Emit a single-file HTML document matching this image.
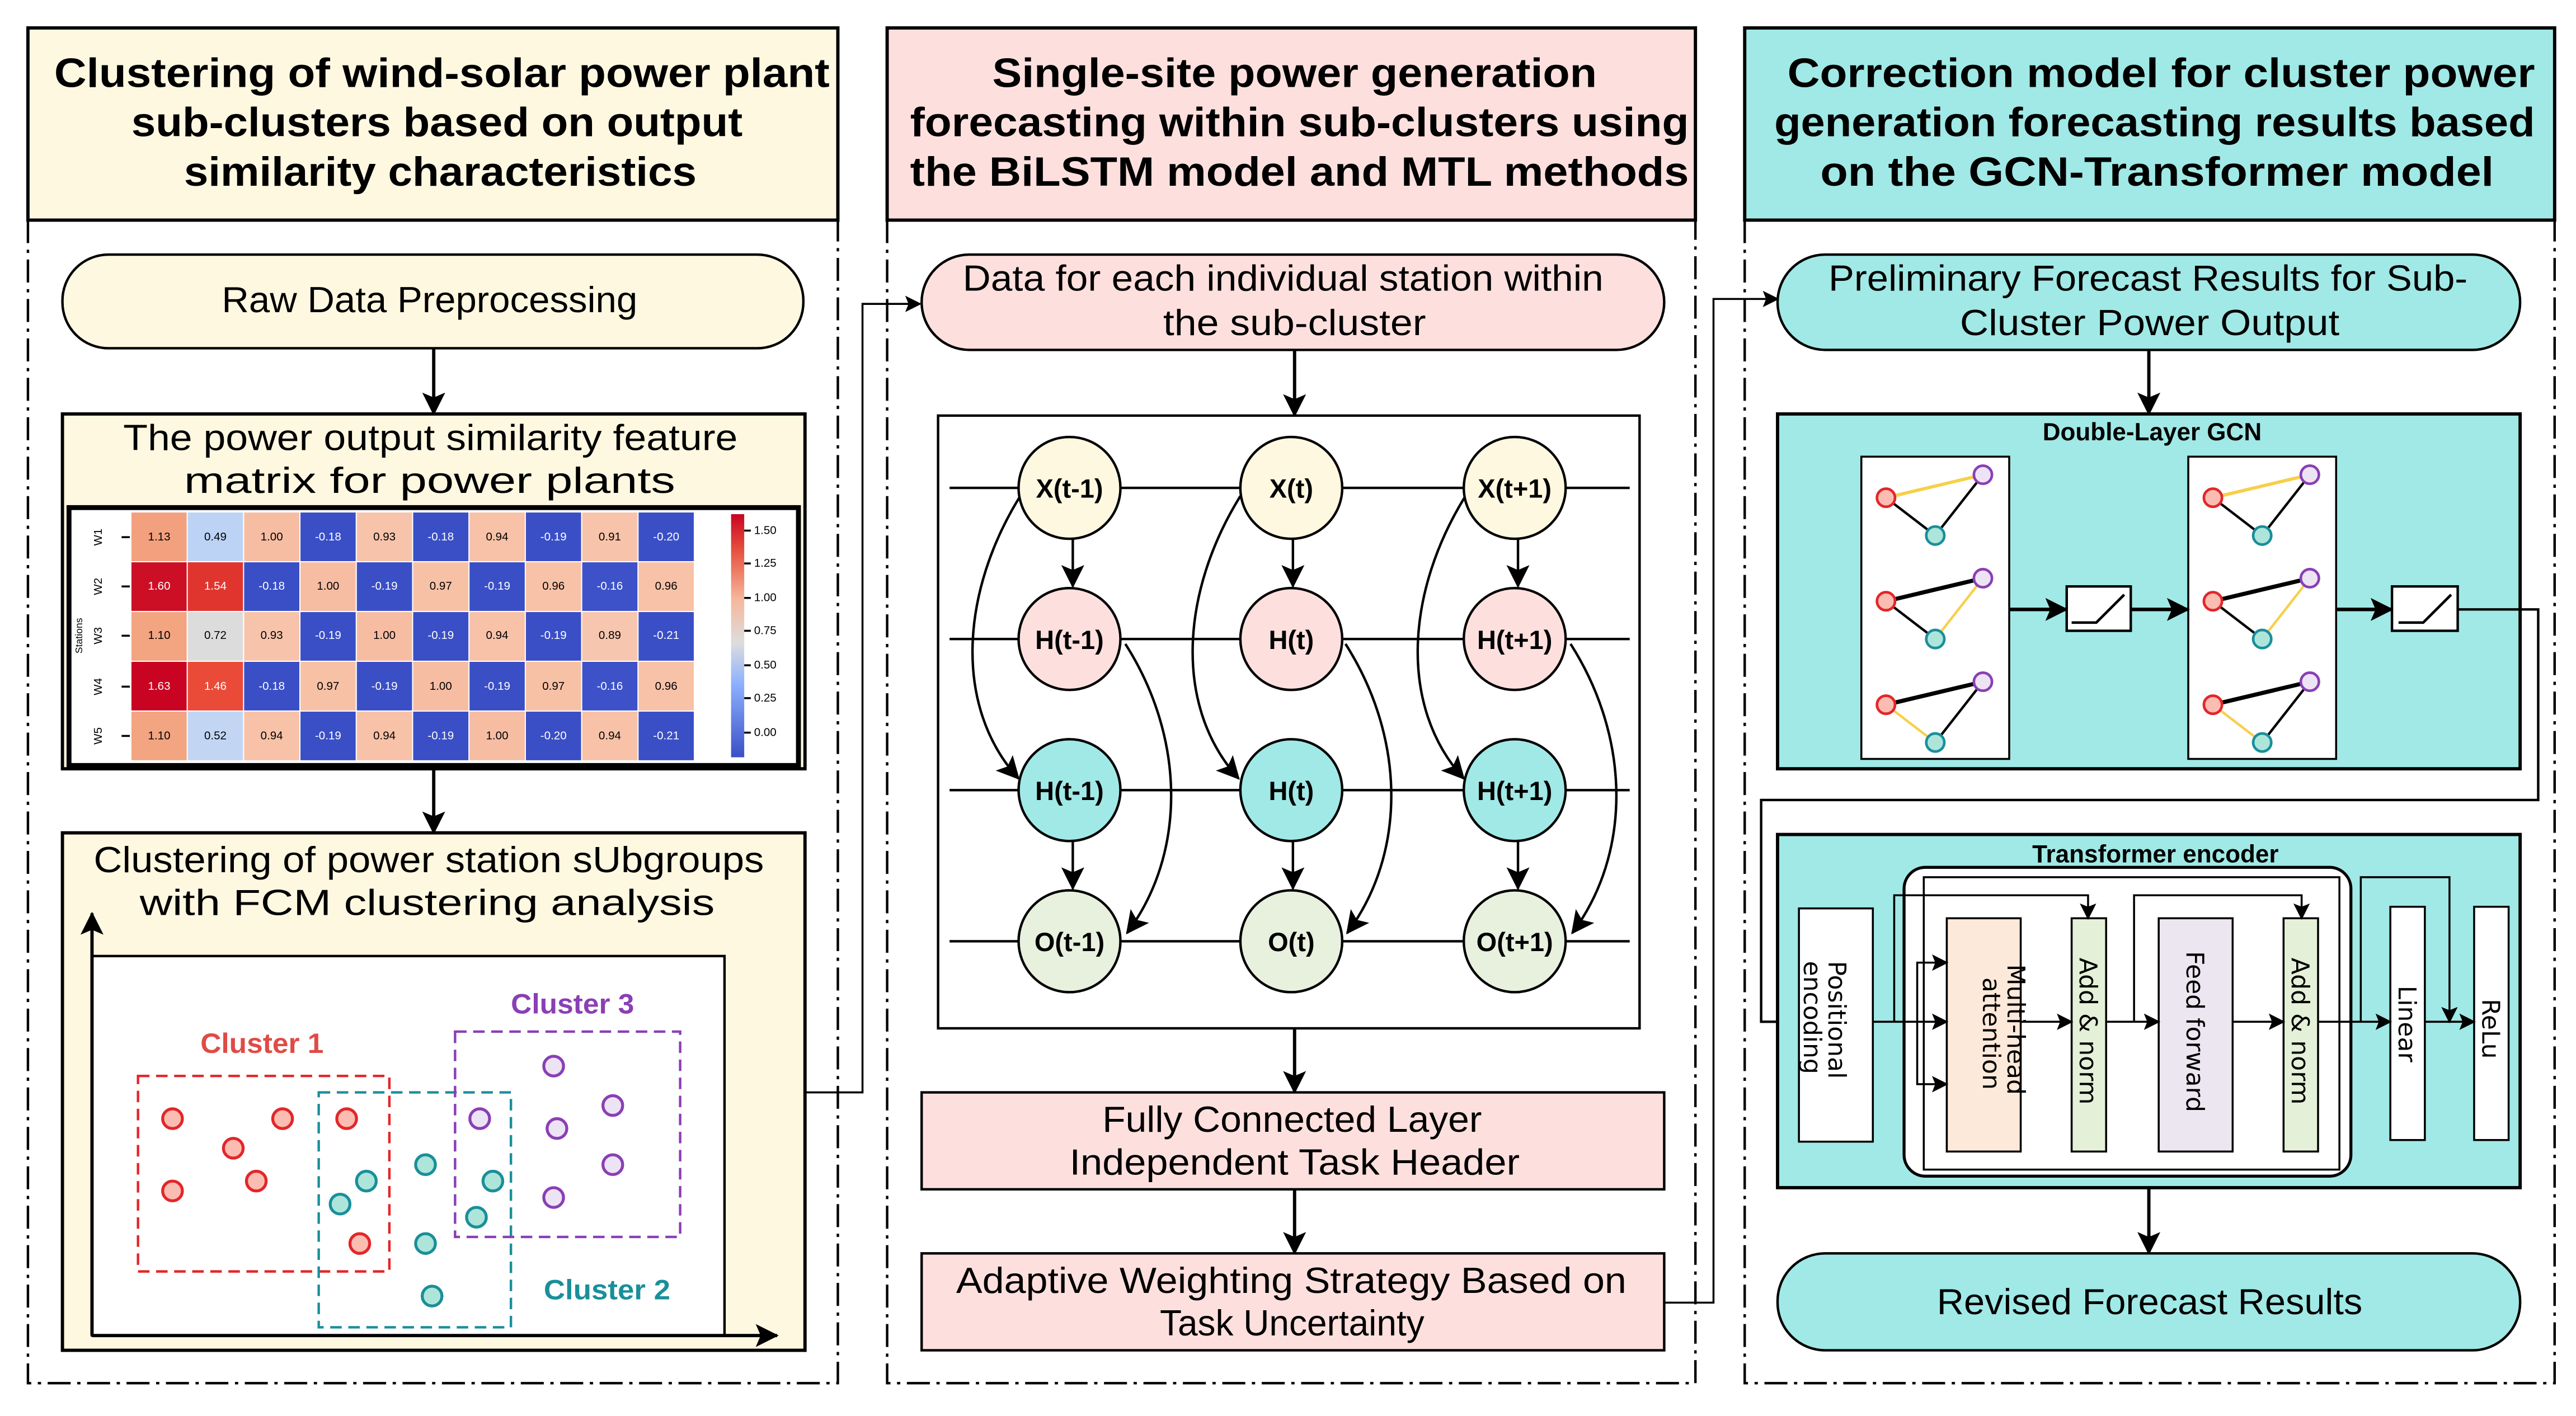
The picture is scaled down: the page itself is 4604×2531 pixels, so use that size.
<!DOCTYPE html>
<html><head><meta charset="utf-8"><style>
html,body{margin:0;padding:0;background:#fff;}
svg{display:block;}
text{font-family:"Liberation Sans",sans-serif;}
.t{font-weight:bold;font-size:25px;}
.b{font-size:22px;}
.n{font-weight:bold;font-size:16px;}
.hm{font-size:7px;}
</style></head><body>
<svg width="4604" height="2531" viewBox="0 0 1568 862" xmlns="http://www.w3.org/2000/svg">
<defs>
<marker id="a" markerWidth="10" markerHeight="10" refX="9" refY="5" orient="auto" markerUnits="userSpaceOnUse"><path d="M0,0 L10,5 L0,10 L2,5 z" fill="#000"/></marker>
<marker id="as" markerWidth="14" markerHeight="14" refX="13" refY="7" orient="auto" markerUnits="userSpaceOnUse"><path d="M0,0 L14,7 L0,14 L3,7 z" fill="#000"/></marker>
</defs>
<rect width="1568" height="862" fill="#fff"/>

<!-- dash-dot frames -->
<g stroke="#000" stroke-width="1.5" fill="none" stroke-dasharray="14 4 2 4">
<path d="M17,134 V842 H510 V134"/>
<path d="M540,134 V842 H1032 V134"/>
<path d="M1062,134 V842 H1555 V134"/>
</g>

<!-- headers -->
<rect x="17" y="17" width="493" height="117" fill="#fff8e1" stroke="#000" stroke-width="2"/>
<rect x="540" y="17" width="492" height="117" fill="#fde0de" stroke="#000" stroke-width="2"/>
<rect x="1062" y="17" width="493" height="117" fill="#a0e9e6" stroke="#000" stroke-width="2"/>
<g class="t">
<text x="33" y="53" textLength="472" lengthAdjust="spacingAndGlyphs">Clustering of wind-solar power plant</text>
<text x="80" y="83" textLength="372" lengthAdjust="spacingAndGlyphs">sub-clusters based on output</text>
<text x="112" y="113" textLength="312" lengthAdjust="spacingAndGlyphs">similarity characteristics</text>
<text x="604" y="53" textLength="368" lengthAdjust="spacingAndGlyphs">Single-site power generation</text>
<text x="554" y="83" textLength="474" lengthAdjust="spacingAndGlyphs">forecasting within sub-clusters using</text>
<text x="554" y="113" textLength="474" lengthAdjust="spacingAndGlyphs">the BiLSTM model and MTL methods</text>
<text x="1088" y="53" textLength="455" lengthAdjust="spacingAndGlyphs">Correction model for cluster power</text>
<text x="1080" y="83" textLength="463" lengthAdjust="spacingAndGlyphs">generation forecasting results based</text>
<text x="1108" y="113" textLength="410" lengthAdjust="spacingAndGlyphs">on the GCN-Transformer model</text>
</g>

<!-- ===== Column 1 ===== -->
<rect x="38" y="155" width="451" height="57" rx="28" fill="#fff8e1" stroke="#000" stroke-width="1.5"/>
<text class="b" x="135" y="190" textLength="253" lengthAdjust="spacingAndGlyphs">Raw Data Preprocessing</text>
<line x1="264" y1="212" x2="264" y2="252" stroke="#000" stroke-width="2" marker-end="url(#as)"/>

<rect x="38" y="252" width="452" height="216" fill="#fff8e1" stroke="#000" stroke-width="2"/>
<text class="b" x="75" y="274" textLength="374" lengthAdjust="spacingAndGlyphs">The power output similarity feature</text>
<text class="b" x="112" y="300" textLength="299" lengthAdjust="spacingAndGlyphs">matrix for power plants</text>
<rect x="42" y="309" width="444" height="157" fill="#fff" stroke="#000" stroke-width="3"/>
<g id="hm"></g>
<!-- heatmap cells -->
<g class="hm" text-anchor="middle">
<!-- row W1 -->
<rect x="80" y="312" width="33.6" height="29.6" fill="#f3a07f"/><text x="96.9" y="329">1.13</text>
<rect x="114.3" y="312" width="33.6" height="29.6" fill="#bcd3f6"/><text x="131.1" y="329">0.49</text>
<rect x="148.6" y="312" width="33.6" height="29.6" fill="#f6bda3"/><text x="165.4" y="329">1.00</text>
<rect x="182.9" y="312" width="33.6" height="29.6" fill="#3a4fc6"/><text x="199.7" y="329" fill="#fff">-0.18</text>
<rect x="217.2" y="312" width="33.6" height="29.6" fill="#f7c4ab"/><text x="234" y="329">0.93</text>
<rect x="251.5" y="312" width="33.6" height="29.6" fill="#3a4fc6"/><text x="268.3" y="329" fill="#fff">-0.18</text>
<rect x="285.8" y="312" width="33.6" height="29.6" fill="#f7c2a8"/><text x="302.6" y="329">0.94</text>
<rect x="320.1" y="312" width="33.6" height="29.6" fill="#3a4fc6"/><text x="336.9" y="329" fill="#fff">-0.19</text>
<rect x="354.4" y="312" width="33.6" height="29.6" fill="#f7c4ab"/><text x="371.2" y="329">0.91</text>
<rect x="388.7" y="312" width="33.6" height="29.6" fill="#3a4fc6"/><text x="405.5" y="329" fill="#fff">-0.20</text>
<!-- row W2 -->
<rect x="80" y="342.3" width="33.6" height="29.6" fill="#cc0f25"/><text x="96.9" y="359" fill="#fff">1.60</text>
<rect x="114.3" y="342.3" width="33.6" height="29.6" fill="#e0352f"/><text x="131.1" y="359" fill="#fff">1.54</text>
<rect x="148.6" y="342.3" width="33.6" height="29.6" fill="#3a4fc6"/><text x="165.4" y="359" fill="#fff">-0.18</text>
<rect x="182.9" y="342.3" width="33.6" height="29.6" fill="#f6bda3"/><text x="199.7" y="359">1.00</text>
<rect x="217.2" y="342.3" width="33.6" height="29.6" fill="#3a4fc6"/><text x="234" y="359" fill="#fff">-0.19</text>
<rect x="251.5" y="342.3" width="33.6" height="29.6" fill="#f7c1a6"/><text x="268.3" y="359">0.97</text>
<rect x="285.8" y="342.3" width="33.6" height="29.6" fill="#3a4fc6"/><text x="302.6" y="359" fill="#fff">-0.19</text>
<rect x="320.1" y="342.3" width="33.6" height="29.6" fill="#f7c2a8"/><text x="336.9" y="359">0.96</text>
<rect x="354.4" y="342.3" width="33.6" height="29.6" fill="#3d52c8"/><text x="371.2" y="359" fill="#fff">-0.16</text>
<rect x="388.7" y="342.3" width="33.6" height="29.6" fill="#f7c2a8"/><text x="405.5" y="359">0.96</text>
<!-- row W3 -->
<rect x="80" y="372.6" width="33.6" height="29.6" fill="#f3a481"/><text x="96.9" y="389">1.10</text>
<rect x="114.3" y="372.6" width="33.6" height="29.6" fill="#dcdcdc"/><text x="131.1" y="389">0.72</text>
<rect x="148.6" y="372.6" width="33.6" height="29.6" fill="#f7c4ab"/><text x="165.4" y="389">0.93</text>
<rect x="182.9" y="372.6" width="33.6" height="29.6" fill="#3a4fc6"/><text x="199.7" y="389" fill="#fff">-0.19</text>
<rect x="217.2" y="372.6" width="33.6" height="29.6" fill="#f6bda3"/><text x="234" y="389">1.00</text>
<rect x="251.5" y="372.6" width="33.6" height="29.6" fill="#3a4fc6"/><text x="268.3" y="389" fill="#fff">-0.19</text>
<rect x="285.8" y="372.6" width="33.6" height="29.6" fill="#f7c2a8"/><text x="302.6" y="389">0.94</text>
<rect x="320.1" y="372.6" width="33.6" height="29.6" fill="#3a4fc6"/><text x="336.9" y="389" fill="#fff">-0.19</text>
<rect x="354.4" y="372.6" width="33.6" height="29.6" fill="#f7c6ae"/><text x="371.2" y="389">0.89</text>
<rect x="388.7" y="372.6" width="33.6" height="29.6" fill="#3a4fc6"/><text x="405.5" y="389" fill="#fff">-0.21</text>
<!-- row W4 -->
<rect x="80" y="402.9" width="33.6" height="29.6" fill="#c90322"/><text x="96.9" y="420" fill="#fff">1.63</text>
<rect x="114.3" y="402.9" width="33.6" height="29.6" fill="#ea4a38"/><text x="131.1" y="420" fill="#fff">1.46</text>
<rect x="148.6" y="402.9" width="33.6" height="29.6" fill="#3a4fc6"/><text x="165.4" y="420" fill="#fff">-0.18</text>
<rect x="182.9" y="402.9" width="33.6" height="29.6" fill="#f7c1a6"/><text x="199.7" y="420">0.97</text>
<rect x="217.2" y="402.9" width="33.6" height="29.6" fill="#3a4fc6"/><text x="234" y="420" fill="#fff">-0.19</text>
<rect x="251.5" y="402.9" width="33.6" height="29.6" fill="#f6bda3"/><text x="268.3" y="420">1.00</text>
<rect x="285.8" y="402.9" width="33.6" height="29.6" fill="#3a4fc6"/><text x="302.6" y="420" fill="#fff">-0.19</text>
<rect x="320.1" y="402.9" width="33.6" height="29.6" fill="#f7c1a6"/><text x="336.9" y="420">0.97</text>
<rect x="354.4" y="402.9" width="33.6" height="29.6" fill="#3d52c8"/><text x="371.2" y="420" fill="#fff">-0.16</text>
<rect x="388.7" y="402.9" width="33.6" height="29.6" fill="#f7c2a8"/><text x="405.5" y="420">0.96</text>
<!-- row W5 -->
<rect x="80" y="433.2" width="33.6" height="29.6" fill="#f3a481"/><text x="96.9" y="450">1.10</text>
<rect x="114.3" y="433.2" width="33.6" height="29.6" fill="#c2d6f4"/><text x="131.1" y="450">0.52</text>
<rect x="148.6" y="433.2" width="33.6" height="29.6" fill="#f7c2a8"/><text x="165.4" y="450">0.94</text>
<rect x="182.9" y="433.2" width="33.6" height="29.6" fill="#3a4fc6"/><text x="199.7" y="450" fill="#fff">-0.19</text>
<rect x="217.2" y="433.2" width="33.6" height="29.6" fill="#f7c2a8"/><text x="234" y="450">0.94</text>
<rect x="251.5" y="433.2" width="33.6" height="29.6" fill="#3a4fc6"/><text x="268.3" y="450" fill="#fff">-0.19</text>
<rect x="285.8" y="433.2" width="33.6" height="29.6" fill="#f6bda3"/><text x="302.6" y="450">1.00</text>
<rect x="320.1" y="433.2" width="33.6" height="29.6" fill="#3a4fc6"/><text x="336.9" y="450" fill="#fff">-0.20</text>
<rect x="354.4" y="433.2" width="33.6" height="29.6" fill="#f7c2a8"/><text x="371.2" y="450">0.94</text>
<rect x="388.7" y="433.2" width="33.6" height="29.6" fill="#3a4fc6"/><text x="405.5" y="450" fill="#fff">-0.21</text>
</g>
<g class="hm" text-anchor="middle">
<text transform="translate(62,327) rotate(-90)">W1</text>
<text transform="translate(62,357) rotate(-90)">W2</text>
<text transform="translate(62,387) rotate(-90)">W3</text>
<text transform="translate(62,418) rotate(-90)">W4</text>
<text transform="translate(62,448) rotate(-90)">W5</text>
<text transform="translate(50,387) rotate(-90)" font-size="6">Stations</text>
</g>
<g stroke="#000" stroke-width="1.2">
<line x1="74" y1="327" x2="79" y2="327"/><line x1="74" y1="357" x2="79" y2="357"/><line x1="74" y1="387" x2="79" y2="387"/><line x1="74" y1="418" x2="79" y2="418"/><line x1="74" y1="448" x2="79" y2="448"/>
</g>
<linearGradient id="cb" x1="0" y1="1" x2="0" y2="0">
<stop offset="0" stop-color="#3a4fc6"/><stop offset="0.3" stop-color="#8db0fe"/><stop offset="0.47" stop-color="#dddddd"/><stop offset="0.65" stop-color="#f6b79b"/><stop offset="0.85" stop-color="#e6513f"/><stop offset="1" stop-color="#c90322"/>
</linearGradient>
<rect x="445" y="313" width="8" height="148" fill="url(#cb)"/>
<g stroke="#000" stroke-width="1.2">
<line x1="453" y1="323" x2="457" y2="323"/><line x1="453" y1="343" x2="457" y2="343"/><line x1="453" y1="364" x2="457" y2="364"/><line x1="453" y1="384" x2="457" y2="384"/><line x1="453" y1="405" x2="457" y2="405"/><line x1="453" y1="425" x2="457" y2="425"/><line x1="453" y1="446" x2="457" y2="446"/>
</g>
<g class="hm">
<text x="459" y="325">1.50</text><text x="459" y="345">1.25</text><text x="459" y="366">1.00</text><text x="459" y="386">0.75</text><text x="459" y="407">0.50</text><text x="459" y="427">0.25</text><text x="459" y="448">0.00</text>
</g>
<line x1="264" y1="468" x2="264" y2="507" stroke="#000" stroke-width="2" marker-end="url(#as)"/>

<rect x="38" y="507" width="452" height="315" fill="#fff8e1" stroke="#000" stroke-width="2"/>
<text class="b" x="57" y="531" textLength="408" lengthAdjust="spacingAndGlyphs">Clustering of power station sUbgroups</text>
<text class="b" x="85" y="557" textLength="350" lengthAdjust="spacingAndGlyphs">with FCM clustering analysis</text>
<rect x="56" y="582" width="385" height="231" fill="#fff" stroke="#000" stroke-width="1.5"/>
<line x1="56" y1="813" x2="56" y2="556" stroke="#000" stroke-width="2" marker-end="url(#as)"/>
<line x1="56" y1="813" x2="473" y2="813" stroke="#000" stroke-width="2" marker-end="url(#as)"/>
<rect x="84" y="655" width="153" height="119" fill="none" stroke="#e3262a" stroke-width="1.5" stroke-dasharray="7 4"/>
<rect x="194" y="665" width="117" height="143" fill="none" stroke="#1a8f9a" stroke-width="1.5" stroke-dasharray="7 4"/>
<rect x="277" y="628" width="137" height="125" fill="none" stroke="#8a3fb5" stroke-width="1.5" stroke-dasharray="7 4"/>
<g font-weight="bold" font-size="17">
<text x="122" y="641" fill="#df4b45" textLength="75" lengthAdjust="spacingAndGlyphs">Cluster 1</text>
<text x="311" y="617" fill="#8a3fb5" textLength="75" lengthAdjust="spacingAndGlyphs">Cluster 3</text>
<text x="331" y="791" fill="#1a8f9a" textLength="77" lengthAdjust="spacingAndGlyphs">Cluster 2</text>
</g>
<g stroke="#e3262a" stroke-width="1.8" fill="#fbbcb2">
<circle cx="105" cy="681" r="6"/><circle cx="172" cy="681" r="6"/><circle cx="142" cy="699" r="6"/><circle cx="105" cy="725" r="6"/><circle cx="156" cy="719" r="6"/><circle cx="211" cy="681" r="6"/><circle cx="219" cy="757" r="6"/>
</g>
<g stroke="#1a8f9a" stroke-width="1.8" fill="#aee5da">
<circle cx="259" cy="709" r="6"/><circle cx="223" cy="719" r="6"/><circle cx="207" cy="733" r="6"/><circle cx="259" cy="757" r="6"/><circle cx="263" cy="789" r="6"/><circle cx="300" cy="719" r="6"/><circle cx="290" cy="741" r="6"/>
</g>
<g stroke="#8a3fb5" stroke-width="1.8" fill="#ece4f4">
<circle cx="337" cy="649" r="6"/><circle cx="373" cy="673" r="6"/><circle cx="339" cy="687" r="6"/><circle cx="373" cy="709" r="6"/><circle cx="337" cy="729" r="6"/><circle cx="292" cy="681" r="6"/>
</g>
<polyline points="490,665 525,665 525,185 560,185" fill="none" stroke="#000" stroke-width="1.2" marker-end="url(#a)"/>

<!-- ===== Column 2 ===== -->
<rect x="561" y="155" width="452" height="58" rx="29" fill="#fde0de" stroke="#000" stroke-width="1.5"/>
<text class="b" x="586" y="177" textLength="390" lengthAdjust="spacingAndGlyphs">Data for each individual station within</text>
<text class="b" x="708" y="204" textLength="160" lengthAdjust="spacingAndGlyphs">the sub-cluster</text>
<line x1="788" y1="213" x2="788" y2="253" stroke="#000" stroke-width="2" marker-end="url(#as)"/>
<rect x="571" y="253" width="427" height="373" fill="#fff" stroke="#000" stroke-width="1.5"/>
<g stroke="#000" stroke-width="1.5">
<line x1="578" y1="297" x2="992" y2="297"/><line x1="578" y1="389" x2="992" y2="389"/><line x1="578" y1="481" x2="992" y2="481"/><line x1="578" y1="573" x2="992" y2="573"/>
</g>
<g stroke="#000" stroke-width="1.5" fill="none">
<!-- col 1 -->
<line x1="653" y1="328" x2="653" y2="357" marker-end="url(#as)"/>
<line x1="653" y1="512" x2="653" y2="541" marker-end="url(#as)"/>
<path d="M621,302 C585,360 580,430 620,474" marker-end="url(#as)"/>
<path d="M685,392 C722,450 722,520 686,568" marker-end="url(#as)"/>
<!-- col 2 -->
<line x1="787" y1="328" x2="787" y2="357" marker-end="url(#as)"/>
<line x1="787" y1="512" x2="787" y2="541" marker-end="url(#as)"/>
<path d="M755,302 C719,360 714,430 754,474" marker-end="url(#as)"/>
<path d="M819,392 C856,450 856,520 820,568" marker-end="url(#as)"/>
<!-- col 3 -->
<line x1="924" y1="328" x2="924" y2="357" marker-end="url(#as)"/>
<line x1="924" y1="512" x2="924" y2="541" marker-end="url(#as)"/>
<path d="M892,302 C856,360 851,430 891,474" marker-end="url(#as)"/>
<path d="M956,392 C993,450 993,520 957,568" marker-end="url(#as)"/>
</g>
<g stroke="#000" stroke-width="1.5">
<ellipse cx="651" cy="297" rx="31" ry="31" fill="#fff8e1"/><ellipse cx="786" cy="297" rx="31" ry="31" fill="#fff8e1"/><ellipse cx="922" cy="297" rx="31" ry="31" fill="#fff8e1"/>
<ellipse cx="651" cy="389" rx="31" ry="31" fill="#fde0de"/><ellipse cx="786" cy="389" rx="31" ry="31" fill="#fde0de"/><ellipse cx="922" cy="389" rx="31" ry="31" fill="#fde0de"/>
<ellipse cx="651" cy="481" rx="31" ry="31" fill="#a0e9e6"/><ellipse cx="786" cy="481" rx="31" ry="31" fill="#a0e9e6"/><ellipse cx="922" cy="481" rx="31" ry="31" fill="#a0e9e6"/>
<ellipse cx="651" cy="573" rx="31" ry="31" fill="#e8f0de"/><ellipse cx="786" cy="573" rx="31" ry="31" fill="#e8f0de"/><ellipse cx="922" cy="573" rx="31" ry="31" fill="#e8f0de"/>
</g>
<g class="n" text-anchor="middle">
<text x="651" y="303">X(t-1)</text><text x="786" y="303">X(t)</text><text x="922" y="303">X(t+1)</text>
<text x="651" y="395">H(t-1)</text><text x="786" y="395">H(t)</text><text x="922" y="395">H(t+1)</text>
<text x="651" y="487">H(t-1)</text><text x="786" y="487">H(t)</text><text x="922" y="487">H(t+1)</text>
<text x="651" y="579">O(t-1)</text><text x="786" y="579">O(t)</text><text x="922" y="579">O(t+1)</text>
</g>
<line x1="788" y1="626" x2="788" y2="665" stroke="#000" stroke-width="2" marker-end="url(#as)"/>
<rect x="561" y="665" width="452" height="59" fill="#fde0de" stroke="#000" stroke-width="1.5"/>
<text class="b" x="671" y="689" textLength="231" lengthAdjust="spacingAndGlyphs">Fully Connected Layer</text>
<text class="b" x="651" y="715" textLength="274" lengthAdjust="spacingAndGlyphs">Independent Task Header</text>
<line x1="788" y1="724" x2="788" y2="763" stroke="#000" stroke-width="2" marker-end="url(#as)"/>
<rect x="561" y="763" width="452" height="59" fill="#fde0de" stroke="#000" stroke-width="1.5"/>
<text class="b" x="582" y="787" textLength="408" lengthAdjust="spacingAndGlyphs">Adaptive Weighting Strategy Based on</text>
<text class="b" x="706" y="813" textLength="161" lengthAdjust="spacingAndGlyphs">Task Uncertainty</text>
<polyline points="1013,793 1043,793 1043,182 1082,182" fill="none" stroke="#000" stroke-width="1.2" marker-end="url(#a)"/>

<!-- ===== Column 3 ===== -->
<rect x="1082" y="155" width="452" height="58" rx="29" fill="#a0e9e6" stroke="#000" stroke-width="1.5"/>
<text class="b" x="1113" y="177" textLength="389" lengthAdjust="spacingAndGlyphs">Preliminary Forecast Results for Sub-</text>
<text class="b" x="1193" y="204" textLength="231" lengthAdjust="spacingAndGlyphs">Cluster Power Output</text>
<line x1="1308" y1="213" x2="1308" y2="252" stroke="#000" stroke-width="2" marker-end="url(#as)"/>

<rect x="1082" y="252" width="452" height="216" fill="#a0e9e6" stroke="#000" stroke-width="2"/>
<text x="1310" y="268" font-weight="bold" font-size="15" text-anchor="middle">Double-Layer GCN</text>
<g id="p1">
<rect x="1133" y="278" width="90" height="184" fill="#fff" stroke="#000" stroke-width="1.2"/>
</g>
<rect x="1332" y="278" width="90" height="184" fill="#fff" stroke="#000" stroke-width="1.2"/>
<g fill="none">
<!-- panel 1 -->
<line x1="1148" y1="303" x2="1207" y2="289" stroke="#f7cf4a" stroke-width="2"/>
<line x1="1148" y1="303" x2="1178" y2="326" stroke="#000" stroke-width="1.5"/>
<line x1="1207" y1="289" x2="1178" y2="326" stroke="#000" stroke-width="1.5"/>
<line x1="1148" y1="366" x2="1207" y2="352" stroke="#000" stroke-width="2.5"/>
<line x1="1148" y1="366" x2="1178" y2="389" stroke="#000" stroke-width="1.5"/>
<line x1="1207" y1="352" x2="1178" y2="389" stroke="#f7cf4a" stroke-width="1.5"/>
<line x1="1148" y1="429" x2="1207" y2="415" stroke="#000" stroke-width="2.5"/>
<line x1="1148" y1="429" x2="1178" y2="452" stroke="#f7cf4a" stroke-width="1.5"/>
<line x1="1207" y1="415" x2="1178" y2="452" stroke="#000" stroke-width="1.5"/>
<!-- panel 2 -->
<line x1="1347" y1="303" x2="1406" y2="289" stroke="#f7cf4a" stroke-width="2"/>
<line x1="1347" y1="303" x2="1377" y2="326" stroke="#000" stroke-width="1.5"/>
<line x1="1406" y1="289" x2="1377" y2="326" stroke="#000" stroke-width="1.5"/>
<line x1="1347" y1="366" x2="1406" y2="352" stroke="#000" stroke-width="2.5"/>
<line x1="1347" y1="366" x2="1377" y2="389" stroke="#000" stroke-width="1.5"/>
<line x1="1406" y1="352" x2="1377" y2="389" stroke="#f7cf4a" stroke-width="1.5"/>
<line x1="1347" y1="429" x2="1406" y2="415" stroke="#000" stroke-width="2.5"/>
<line x1="1347" y1="429" x2="1377" y2="452" stroke="#f7cf4a" stroke-width="1.5"/>
<line x1="1406" y1="415" x2="1377" y2="452" stroke="#000" stroke-width="1.5"/>
</g>
<g stroke-width="1.6">
<g fill="#fbbcb2" stroke="#e3262a"><circle cx="1148" cy="303" r="5.5"/><circle cx="1148" cy="366" r="5.5"/><circle cx="1148" cy="429" r="5.5"/><circle cx="1347" cy="303" r="5.5"/><circle cx="1347" cy="366" r="5.5"/><circle cx="1347" cy="429" r="5.5"/></g>
<g fill="#ece4f4" stroke="#8a3fb5"><circle cx="1207" cy="289" r="5.5"/><circle cx="1207" cy="352" r="5.5"/><circle cx="1207" cy="415" r="5.5"/><circle cx="1406" cy="289" r="5.5"/><circle cx="1406" cy="352" r="5.5"/><circle cx="1406" cy="415" r="5.5"/></g>
<g fill="#aee5da" stroke="#1a8f9a"><circle cx="1178" cy="326" r="5.5"/><circle cx="1178" cy="389" r="5.5"/><circle cx="1178" cy="452" r="5.5"/><circle cx="1377" cy="326" r="5.5"/><circle cx="1377" cy="389" r="5.5"/><circle cx="1377" cy="452" r="5.5"/></g>
</g>
<g stroke="#000" stroke-width="2.2">
<line x1="1223" y1="371" x2="1258" y2="371" marker-end="url(#as)"/>
<line x1="1297" y1="371" x2="1332" y2="371" marker-end="url(#as)"/>
<line x1="1422" y1="371" x2="1456" y2="371" marker-end="url(#as)"/>
</g>
<rect x="1258" y="357" width="39" height="27" fill="#fff" stroke="#000" stroke-width="1.5"/>
<rect x="1456" y="357" width="40" height="27" fill="#fff" stroke="#000" stroke-width="1.5"/>
<polyline points="1261,379 1276,379 1293,362" fill="none" stroke="#000" stroke-width="1.6"/>
<polyline points="1460,379 1475,379 1492,362" fill="none" stroke="#000" stroke-width="1.6"/>
<polyline points="1496,371 1545,371 1545,487 1072,487 1072,622 1095,622" fill="none" stroke="#000" stroke-width="1.5" marker-end="url(#as)"/>

<rect x="1082" y="508" width="452" height="215" fill="#a0e9e6" stroke="#000" stroke-width="2"/>
<text x="1312" y="525" font-weight="bold" font-size="15" text-anchor="middle">Transformer encoder</text>
<rect x="1159" y="528" width="272" height="188" rx="13" fill="#fff" stroke="#000" stroke-width="1.8"/>
<rect x="1171" y="534" width="253" height="178" fill="none" stroke="#000" stroke-width="1.2"/>
<rect x="1095" y="553" width="45" height="142" fill="#fff" stroke="#000" stroke-width="1.2"/>
<rect x="1185" y="559" width="45" height="142" fill="#fde9d9" stroke="#000" stroke-width="1.2"/>
<rect x="1261" y="559" width="21" height="142" fill="#e5f0d8" stroke="#000" stroke-width="1.2"/>
<rect x="1314" y="559" width="45" height="142" fill="#ebe6f0" stroke="#000" stroke-width="1.2"/>
<rect x="1390" y="559" width="21" height="142" fill="#e5f0d8" stroke="#000" stroke-width="1.2"/>
<rect x="1455" y="552" width="21" height="142" fill="#fff" stroke="#000" stroke-width="1.2"/>
<rect x="1506" y="552" width="21" height="142" fill="#fff" stroke="#000" stroke-width="1.2"/>
<g stroke="#000" stroke-width="1.2" fill="none">
<line x1="1140" y1="622" x2="1185" y2="622" marker-end="url(#a)"/>
<polyline points="1167,622 1167,586 1185,586" marker-end="url(#a)"/>
<polyline points="1167,622 1167,660 1185,660" marker-end="url(#a)"/>
<line x1="1230" y1="622" x2="1261" y2="622" marker-end="url(#a)"/>
<line x1="1282" y1="622" x2="1314" y2="622" marker-end="url(#a)"/>
<line x1="1359" y1="622" x2="1390" y2="622" marker-end="url(#a)"/>
<line x1="1411" y1="622" x2="1455" y2="622" marker-end="url(#a)"/>
<line x1="1476" y1="622" x2="1506" y2="622" marker-end="url(#a)"/>
<polyline points="1153,622 1153,545 1271,545 1271,559" marker-end="url(#a)"/>
<polyline points="1299,622 1299,545 1401,545 1401,559" marker-end="url(#a)"/>
<polyline points="1437,622 1437,534 1491,534 1491,622" marker-end="url(#a)"/>
</g>
<g font-family="DejaVu Sans, sans-serif" font-size="15">
<text transform="translate(1113,585) rotate(90)" style="font-family:'DejaVu Sans',sans-serif">Positional</text>
<text transform="translate(1098,585) rotate(90)" style="font-family:'DejaVu Sans',sans-serif">encoding</text>
<text transform="translate(1222,587) rotate(90)" style="font-family:'DejaVu Sans',sans-serif">Multi-head</text>
<text transform="translate(1207,595) rotate(90)" style="font-family:'DejaVu Sans',sans-serif">attention</text>
<text transform="translate(1266,583) rotate(90)" style="font-family:'DejaVu Sans',sans-serif">Add &amp; norm</text>
<text transform="translate(1331,579) rotate(90)" style="font-family:'DejaVu Sans',sans-serif">Feed forward</text>
<text transform="translate(1395,583) rotate(90)" style="font-family:'DejaVu Sans',sans-serif">Add &amp; norm</text>
<text transform="translate(1460,600) rotate(90)" style="font-family:'DejaVu Sans',sans-serif">Linear</text>
<text transform="translate(1511,608) rotate(90)" style="font-family:'DejaVu Sans',sans-serif">ReLu</text>
</g>
<line x1="1308" y1="723" x2="1308" y2="763" stroke="#000" stroke-width="2" marker-end="url(#as)"/>
<rect x="1082" y="763" width="452" height="59" rx="29" fill="#a0e9e6" stroke="#000" stroke-width="1.5"/>
<text class="b" x="1179" y="800" textLength="259" lengthAdjust="spacingAndGlyphs">Revised Forecast Results</text>
</svg>
</body></html>
